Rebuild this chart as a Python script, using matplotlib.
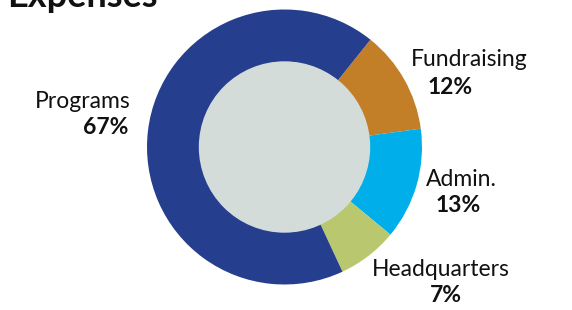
import matplotlib
matplotlib.use("Agg")
import matplotlib.pyplot as plt
from matplotlib.patches import Circle

# slice data, clockwise from the Programs/Fundraising boundary
categories = ["Fundraising", "Admin.", "Headquarters", "Programs"]
shares = [12, 13, 7, 67]
pct_labels = ["12%", "13%", "7%", "67%"]
colors = ["#c27f27", "#00aeea", "#b9c86f", "#253f8e"]

W, H = 572, 310
fig = plt.figure(figsize=(W / 100, H / 100), dpi=100)
ax = fig.add_axes([0, 0, 1, 1])

cx, cy = 284.5, H - 147
r_out, r_in = 137.5, 84.5

ax.pie(shares, colors=colors, startangle=51.3, counterclock=False,
       center=(cx, cy), radius=r_out, frame=True,
       wedgeprops=dict(width=r_out - r_in, linewidth=0))
ax.add_patch(Circle((cx, cy), r_in + 0.5, color="#d4dcda", zorder=3))
ax.set_xlim(0, W)
ax.set_ylim(0, H)
ax.set_aspect("equal")
ax.axis("off")

fam = ["Lato", "DejaVu Sans"]
# label name / percent positions in pixels (x left, y centre from top)
name_pos = [(411, 59), (426, 179), (372, 270), (35, 101)]
pct_pos = [(428, 87), (436, 205), (430, 296), (83, 128)]
for name, pct, (nx, ny), (px, py) in zip(categories, pct_labels, name_pos, pct_pos):
    ax.text(nx, H - ny, name, fontsize=16.5, family=fam, color="#111111",
            ha="left", va="center")
    ax.text(px, H - py, pct, fontsize=16.5, family=fam, fontweight="bold",
            color="#111111", ha="left", va="center")

fig.text(7 / W, 1 - 7 / H, "Expenses", fontsize=26, family=fam,
         fontweight="bold", color="#111111", ha="left", va="baseline")

fig.savefig("out.png", dpi=100)
